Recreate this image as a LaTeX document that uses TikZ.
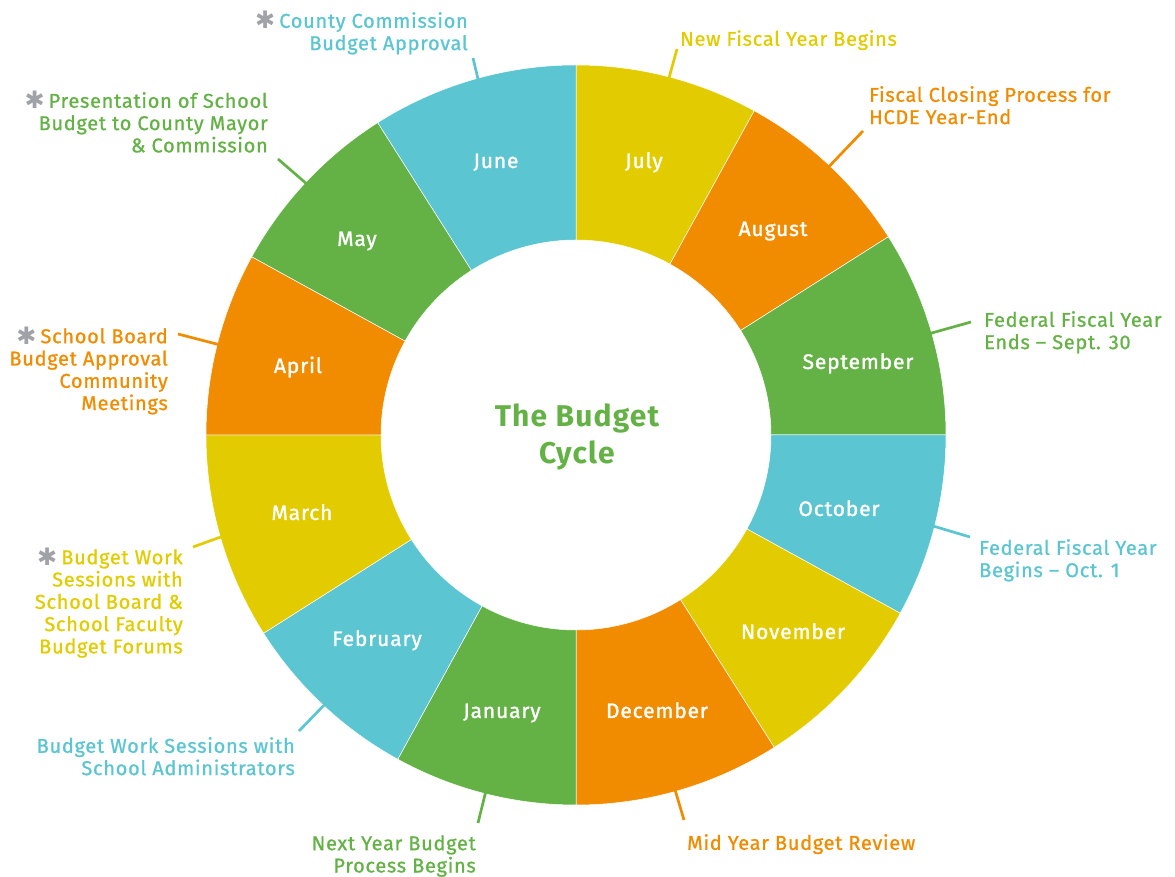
\documentclass[tikz,border=0pt]{standalone}
\usepackage{fontspec}
\setmainfont{Fira Sans}[LetterSpace=4]
\newfontfamily\labfont{Fira Sans}[LetterSpace=3.5, FakeBold=0.9]
\newfontfamily\monfont{Fira Sans}[LetterSpace=4, FakeBold=1.4]
\newfontfamily\djv{DejaVu Sans}
\definecolor{cyel}{RGB}{226,204,0}
\definecolor{corg}{RGB}{241,139,0}
\definecolor{cgrn}{RGB}{100,178,70}
\definecolor{ccyn}{RGB}{91,197,209}
\definecolor{cgry}{RGB}{160,162,168}
\newcommand{\astk}{\textcolor{cgry}{\smash{\raisebox{-0.06em}{\djv\fontsize{24}{24}\selectfont ✱}}}\hspace{4pt}}
\tikzset{
  seg/.style={draw=white, line width=0.5pt},
  month/.style={font=\monfont\fontsize{21}{24}\selectfont, text=white, inner sep=0pt, anchor=base},
  lab/.style={font=\labfont\fontsize{20}{22.3}\selectfont, inner sep=0pt},
  leader/.style={line width=2.7pt}
}
\begin{document}
\begin{tikzpicture}[x=1pt,y=1pt]
\useasboundingbox (-576,-442) rectangle (599,435);
% ring segments (start angle / end angle / colour)
\foreach \a/\b/\c in {90/61.2/cyel, 61.2/32.4/corg, 32.4/0/cgrn,
                      0/-28.8/ccyn, -28.8/-57.6/cyel, -57.6/-90/corg,
                      -90/-118.8/cgrn, -118.8/-147.6/ccyn, -147.6/-180/cyel,
                      180/151.2/corg, 151.2/122.4/cgrn, 122.4/90/ccyn}
  \filldraw[seg, fill=\c] (\a:370pt) arc[start angle=\a, end angle=\b, radius=370pt]
    -- (\b:195pt) arc[start angle=\b, end angle=\a, radius=195pt] -- cycle;
% month labels
\node[month] (jul) at (68,267) {July};
\node[month] (aug) at (197,199) {August};
\node[month] (sep) at (282,66) {September};
\node[month] (oct) at (263,-81) {October};
\node[month] (nov) at (217,-204) {November};
\node[month] (dec) at (81,-283) {December};
\node[month] (jan) at (-74,-283) {January};
\node[month] (feb) at (-199,-211) {February};
\node[month] (mar) at (-274,-85) {March};
\node[month] (apr) at (-278,62) {April};
\node[month] (may) at (-219,189) {May};
\node[month] (jun) at (-80,267) {June};
% title
\node[font=\fontsize{30}{37}\selectfont\bfseries, text=cgrn, align=center, inner sep=0pt] (title) at (1,-2) {The Budget\\Cycle};
% leader coordinates
\coordinate (sJul) at (75.4:368pt);  \coordinate (eJul) at (101,386);
\coordinate (sAug) at (46.7:368pt);  \coordinate (eAug) at (287,304);
\coordinate (sSep) at (16:368pt);    \coordinate (eSep) at (395,113);
\coordinate (sOct) at (-14.3:368pt); \coordinate (eOct) at (394,-102);
\coordinate (sDec) at (-74.4:368pt); \coordinate (eDec) at (108,-385);
\coordinate (sJan) at (-104.2:368pt);\coordinate (eJan) at (-98,-388);
\coordinate (sFeb) at (-133:368pt);  \coordinate (eFeb) at (-277,-296);
\coordinate (sMar) at (-164:368pt);  \coordinate (eMar) at (-383,-112);
\coordinate (sApr) at (165.8:368pt); \coordinate (eApr) at (-398,101);
\coordinate (sMay) at (137:368pt);   \coordinate (eMay) at (-298,276);
\coordinate (sJun) at (105.4:368pt); \coordinate (eJun) at (-103,377);
\draw[leader, cyel] (sJul) -- (eJul);
\draw[leader, corg] (sAug) -- (eAug);
\draw[leader, cgrn] (sSep) -- (eSep);
\draw[leader, ccyn] (sOct) -- (eOct);
\draw[leader, corg] (sDec) -- (eDec);
\draw[leader, cgrn] (sJan) -- (eJan);
\draw[leader, ccyn] (sFeb) -- (eFeb);
\draw[leader, cyel] (sMar) -- (eMar);
\draw[leader, corg] (sApr) -- (eApr);
\draw[leader, cgrn] (sMay) -- (eMay);
\draw[leader, ccyn] (sJun) -- (eJun);
% event labels
\node[lab, text=cyel, anchor=north west, align=left] (lJul) at (104,405) {New Fiscal Year Begins};
\node[lab, text=corg, anchor=north west, align=left] (lAug) at (293,349) {Fiscal Closing Process for\\HCDE Year-End};
\node[lab, text=cgrn, anchor=north west, align=left] (lSep) at (408,124) {Federal Fiscal Year\\Ends – Sept. 30};
\node[lab, text=ccyn, anchor=north west, align=left] (lOct) at (403,-104) {Federal Fiscal Year\\Begins – Oct. 1};
\node[lab, text=corg, anchor=north west, align=left] (lDec) at (111,-399) {Mid Year Budget Review};
\node[lab, text=cgrn, anchor=north east, align=right] (lJan) at (-100,-400) {Next Year Budget\\Process Begins};
\node[lab, text=ccyn, anchor=north east, align=right] (lFeb) at (-281,-302) {Budget Work Sessions with\\School Administrators};
\node[lab, text=cyel, anchor=north east, align=right] (lMar) at (-393,-114) {\astk Budget Work\\Sessions with\\School Board \&\\School Faculty\\Budget Forums};
\node[lab, text=corg, anchor=north east, align=right] (lApr) at (-408,107) {\astk School Board\\Budget Approval\\Community\\Meetings};
\node[lab, text=cgrn, anchor=north east, align=right] (lMay) at (-308,343) {\astk Presentation of School\\Budget to County Mayor\\\& Commission};
\node[lab, text=ccyn, anchor=north east, align=right] (lJun) at (-108,423) {\astk County Commission\\Budget Approval};
\end{tikzpicture}
\end{document}
